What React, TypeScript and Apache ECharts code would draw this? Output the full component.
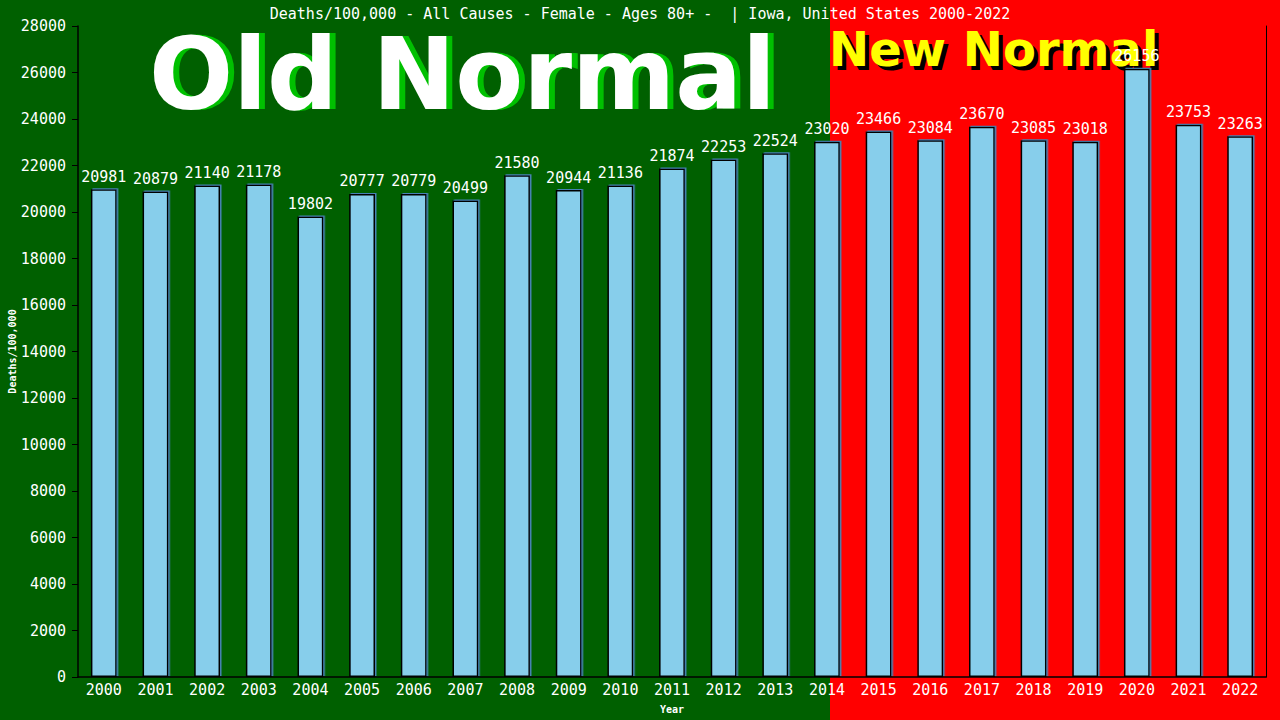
import React, { useEffect, useRef } from "react";
import * as echarts from "echarts";

const years = [
  "2000", "2001", "2002", "2003", "2004", "2005", "2006", "2007", "2008", "2009", "2010", "2011",
  "2012", "2013", "2014", "2015", "2016", "2017", "2018", "2019", "2020", "2021", "2022",
];
const deaths = [
  20981, 20879, 21140, 21178, 19802, 20777, 20779, 20499, 21580, 20944, 21136, 21874,
  22253, 22524, 23020, 23466, 23084, 23670, 23085, 23018, 26156, 23753, 23263,
];
const chartTitle =
  "Deaths/100,000 - All Causes - Female - Ages 80+ -  | Iowa, United States 2000-2022";

const mono = "'DejaVu Sans Mono', monospace";

const App: React.FC = () => {
  const chartRef = useRef<HTMLDivElement>(null);

  useEffect(() => {
    if (!chartRef.current) return;
    const chart = echarts.init(chartRef.current, undefined, { renderer: "svg" });

    const option = {
      animation: false,
      backgroundColor: "#006000",
      title: {
        text: chartTitle,
        left: "center",
        top: 1,
        textStyle: { color: "#fff", fontFamily: mono, fontSize: 15, fontWeight: "normal" },
      },
      graphic: [
        // red "new normal" side
        {
          type: "rect",
          z: -10,
          shape: { x: 830, y: 0, width: 450, height: 720 },
          style: { fill: "#ff0000" },
        },
        {
          type: "text",
          z: 0,
          x: 155,
          y: 25,
          style: {
            text: "Old Normal",
            fill: "#00c000",
            font: "bold 99px 'DejaVu Sans'",
          },
        },
        {
          type: "text",
          z: 0,
          x: 149,
          y: 25,
          style: {
            text: "Old Normal",
            fill: "#ffffff",
            font: "bold 99px 'DejaVu Sans'",
          },
        },
        {
          type: "text",
          z: 0,
          x: 833,
          y: 29,
          style: {
            text: "New Normal",
            fill: "#000000",
            font: "bold 48px 'DejaVu Sans'",
          },
        },
        {
          type: "text",
          z: 0,
          x: 829,
          y: 25,
          style: {
            text: "New Normal",
            fill: "#ffff00",
            font: "bold 48px 'DejaVu Sans'",
          },
        },
      ],
      grid: { left: 78, right: 14, top: 26, bottom: 43, outerBoundsMode: "none" },
      xAxis: {
        type: "category",
        data: years,
        name: "Year",
        nameLocation: "middle",
        nameGap: 27,
        nameMoveOverlap: false,
        nameTextStyle: { color: "#fff", fontFamily: mono, fontSize: 10, fontWeight: "bold" },
        axisLine: { lineStyle: { color: "#000", width: 1.5 } },
        axisTick: { show: false },
        axisLabel: { color: "#fff", fontFamily: mono, fontSize: 15, margin: 5 },
      },
      yAxis: [
        {
          type: "value",
          min: 0,
          max: 28000,
          interval: 2000,
          name: "Deaths/100,000",
          nameLocation: "middle",
          nameGap: 61,
          nameMoveOverlap: false,
          nameTextStyle: { color: "#fff", fontFamily: mono, fontSize: 10, fontWeight: "bold" },
          axisLine: { show: true, lineStyle: { color: "#000", width: 1.5 } },
          axisTick: { show: true, length: 6, lineStyle: { color: "#000" } },
          axisLabel: {
            color: "#fff",
            fontFamily: mono,
            fontSize: 15,
            margin: 12,
            formatter: (v: number) => String(v),
          },
          splitLine: { show: false },
        },
        {
          type: "value",
          min: 0,
          max: 28000,
          interval: 2000,
          position: "right",
          axisLine: { show: true, lineStyle: { color: "#000", width: 1 } },
          axisTick: { show: false },
          axisLabel: { show: false },
          splitLine: { show: false },
        },
      ],
      series: [
        {
          type: "bar",
          data: deaths,
          barWidth: "50%",
          z: 5,
          itemStyle: {
            color: "#87ceeb",
            borderColor: "#000",
            borderWidth: 1.5,
            shadowColor: "#4682b4",
            shadowOffsetX: 1.5,
            shadowOffsetY: -1,
            shadowBlur: 0,
          },
          label: {
            show: true,
            position: "top",
            distance: 5,
            color: "#fff",
            fontFamily: mono,
            fontSize: 15,
          },
        },
      ],
    };

    chart.setOption(option);
    return () => {
      chart.dispose();
    };
  }, []);

  return (
    <div
      ref={chartRef}
      style={{ position: "fixed", left: 0, top: 0, width: "1280px", height: "720px" }}
    />
  );
};

export default App;
